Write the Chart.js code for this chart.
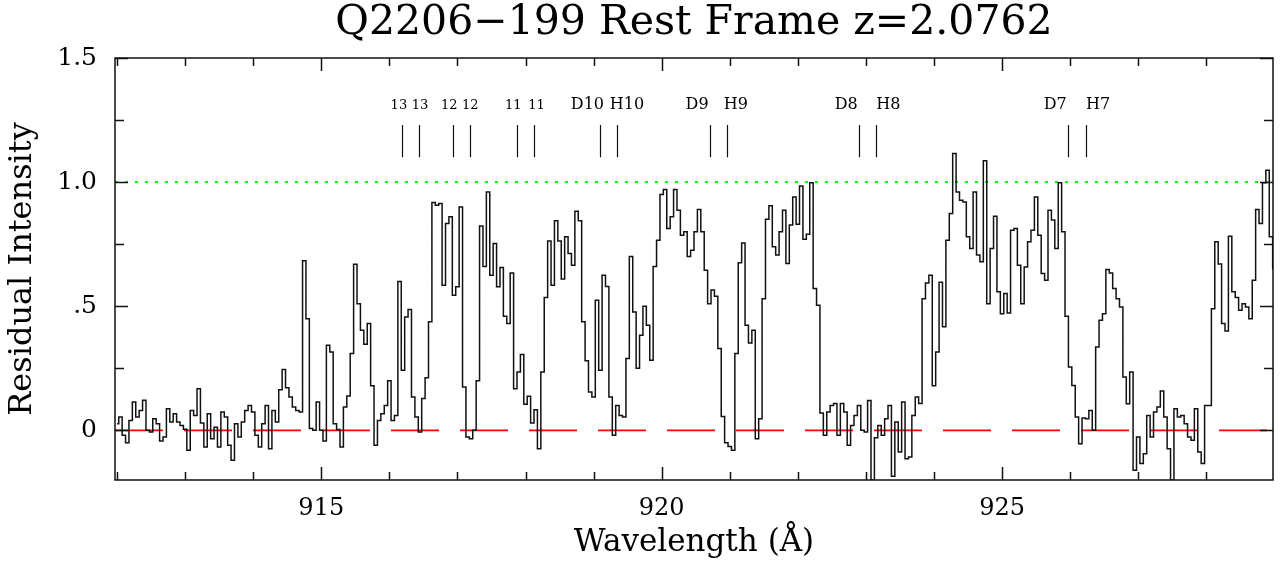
<!DOCTYPE html>
<html>
<head>
<meta charset="utf-8">
<script src="https://cdn.jsdelivr.net/npm/chart.js@4.4.1/dist/chart.umd.min.js"></script>
<style>
  html, body { margin: 0; padding: 0; background: #fff; }
  #wrap { width: 1282px; height: 565px; }
</style>
</head>
<body>
<div id="wrap"><canvas id="spec" width="1282" height="565"></canvas></div>
<script>
// spectrum is on a regular pixel grid
const lambdaStart = 912.0;
const binWidth = 0.05;

// residual intensity in chunks
const flux912 = [.027, .054, -.02, -.05, .04, .114, .054, .08, .121, 0, -.007, .047, .027, -.043, -.027, .087, .034, .067, .034, .02, .004, -.08, .08, .06, .168, .03, -.067, .067, -.034, .013, -.067, .074, .054, -.06, -.12];
const flux914 = [.027, -.027, .034, .08, .1, .074, -.02, -.067, .027, .1, -.074, .08, .034, .164, .245, .172, .134, .094, .08, .074, .683, .45, .007, 0, .114, 0, -.043, .343, .316, .027, .003, -.067, .094, .138, .31];
const flux915 = [.669, .51, .403, .347, .43, .18, -.06, .04, .067, .1, .2, .04, .06, .6, .242, .457, .487, .134, .054, -.007, .128, .212, .437, .918, .907, .914, .585, .833, .86, .544, .578, .9, .175, -.027, -.034];
const flux917 = [0, .2, .823, .66, .96, .625, .753, .578, .656, .46, .43, .634, .168, .235, .306, .105, .137, .03, .083, -.074, .235, .535, .763, .585, .844, .763, .61, .78, .712, .665, .883, .844, .437, .28, .155];
const flux919 = [.134, .524, .242, .625, .58, .134, -.02, .1, .06, .054, .289, .7, .477, .25, .383, .5, .423, .282, .66, .766, .95, .97, .813, .86, .97, .887, .786, .8, .7, .726, .8, .89, .8, .645, .51];
const flux921 = [.565, .54, .33, .056, -.05, -.065, -.08, .31, .675, .755, .423, .352, .403, -.034, .047, .53, .85, .905, .74, .706, .8, .887, .672, .827, .94, .83, .984, .77, .79, .997, .571, .504, .07, -.02, .074];
const flux922 = [.1, .108, -.02, .108, .074, -.06, .02, .06, .1, 0, -.007, .12, -.2, -.03, .02, -.02, .047, .1, -.185, .034, -.087, .114, -.114, -.107, .06, .134, .108, .53, .594, .625, .18, .316, .597, .417, .766, .874];
const flux924 = [1.115, .96, .927, .92, .78, .733, .96, .706, .679, 1.086, .51, .733, .863, .558, .47, .551, .473, .806, .813, .665, .51, .658, .76, .806, .94, .786, .632, .605, .887, .847, .733, .997, .8, .46, .255];
const flux926 = [.181, .054, -.054, .05, .047, .08, 0, .336, .444, .47, .648, .634, .571, .53, .497, .215, .107, .235, -.161, -.027, -.134, -.094, .06, -.027, .074, .094, .159, .054, -.074, -.2, .087, .054, .06, .027, -.027];
const flux928 = [-.04, .087, -.087, -.134, .1, .1, .49, .76, .67, .43, .4, .782, .558, .535, .484, .51, .497, .45, .605, .89, .833, .997, 1.048, .78, .652];

const xRange = [911.97, 928.98];
const yRange = [-0.2, 1.5];
const xTickLabels = [915, 920, 925];
const yTickValues = [0, 0.5, 1.0, 1.5];
const yTickLabels = ['0', '.5', '1.0', '1.5'];

// Lyman series line identifications (D and H)
const lineNames = ['13', '13', '12', '12', '11', '11', 'D10', 'H10', 'D9', 'H9', 'D8', 'H8', 'D7', 'H7'];
const lineWaves = [916.18, 916.43, 916.93, 917.18, 917.88, 918.13, 919.10, 919.35, 920.71, 920.96, 922.90, 923.15, 925.97, 926.23];
const labelWaves = [916.14, 916.45, 916.88, 917.19, 917.82, 918.16, 918.91, 919.49, 920.52, 921.09, 922.71, 923.33, 925.78, 926.41];

const flux = [].concat(flux912, flux914, flux915, flux917, flux919, flux921, flux922, flux924, flux926, flux928);
const spectrum = flux.map((f, i) => ({ x: lambdaStart + i * binWidth, y: f }));

const serif = "'DejaVu Serif', 'Liberation Serif', serif";

const decor = {
  id: 'decor',
  afterDraw(chart) {
    const { ctx, chartArea: a, scales: { x, y } } = chart;
    ctx.save();
    ctx.strokeStyle = '#111';
    ctx.lineWidth = 1.5;
    ctx.strokeRect(a.left, a.top, a.right - a.left, a.bottom - a.top);

    // inward ticks, all four sides
    ctx.beginPath();
    for (let w = Math.ceil(x.min); w <= x.max; w++) {
      const px = Math.round(x.getPixelForValue(w)) + 0.5;
      const len = w % 5 === 0 ? 13 : 8;
      ctx.moveTo(px, a.bottom); ctx.lineTo(px, a.bottom - len);
      ctx.moveTo(px, a.top); ctx.lineTo(px, a.top + len);
    }
    for (let v = 0; v <= y.max + 1e-6; v += 0.25) {
      const py = Math.round(y.getPixelForValue(v)) + 0.5;
      const len = Math.abs(v * 2 - Math.round(v * 2)) < 1e-6 ? 13 : 9;
      ctx.moveTo(a.left, py); ctx.lineTo(a.left + len, py);
      ctx.moveTo(a.right, py); ctx.lineTo(a.right - len, py);
    }
    ctx.stroke();

    // line identification marks
    ctx.lineWidth = 1.2;
    ctx.beginPath();
    lineWaves.forEach(w => {
      const px = Math.round(x.getPixelForValue(w)) + 0.5;
      ctx.moveTo(px, y.getPixelForValue(1.23));
      ctx.lineTo(px, y.getPixelForValue(1.10));
    });
    ctx.stroke();
    ctx.fillStyle = '#000';
    ctx.textAlign = 'center';
    ctx.textBaseline = 'middle';
    lineNames.forEach((name, i) => {
      const big = name.startsWith('D') || name.startsWith('H');
      ctx.font = (big ? '16px ' : '13px ') + serif;
      ctx.fillText(name, x.getPixelForValue(labelWaves[i]), y.getPixelForValue(1.31));
    });

    // title and axis titles
    const midX = (a.left + a.right) / 2;
    ctx.font = '41px ' + serif;
    ctx.fillText('Q2206\u2212199 Rest Frame z=2.0762', midX, 23);
    ctx.font = '31px ' + serif;
    ctx.fillText('Wavelength (\u00c5)', midX, 543);
    ctx.save();
    ctx.translate(23, (a.top + a.bottom) / 2);
    ctx.rotate(-Math.PI / 2);
    ctx.font = '32px ' + serif;
    ctx.fillText('Residual Intensity', 0, 0);
    ctx.restore();
    ctx.restore();
  }
};

new Chart(document.getElementById('spec'), {
  type: 'line',
  data: {
    datasets: [
      {
        data: [{ x: xRange[0], y: 1 }, { x: xRange[1], y: 1 }],
        borderColor: 'rgb(0,255,0)', borderWidth: 2, borderDash: [3, 7],
        pointRadius: 0, order: 3
      },
      {
        data: [{ x: xRange[0], y: 0 }, { x: xRange[1], y: 0 }],
        borderColor: 'rgb(255,0,0)', borderWidth: 1.6, borderDash: [48, 21],
        pointRadius: 0, order: 2
      },
      {
        data: spectrum,
        borderColor: '#111', borderWidth: 1.5, stepped: 'middle',
        pointRadius: 0, order: 1
      }
    ]
  },
  options: {
    responsive: false,
    animation: false,
    devicePixelRatio: 1,
    layout: { padding: { top: 58, right: 9, left: 0, bottom: 0 } },
    plugins: { legend: { display: false }, tooltip: { enabled: false }, title: { display: false } },
    scales: {
      x: {
        type: 'linear', min: xRange[0], max: xRange[1],
        grid: { display: false, drawTicks: false },
        border: { display: false },
        afterBuildTicks: s => { s.ticks = xTickLabels.map(v => ({ value: v })); },
        afterFit: s => { s.height = 85; },
        ticks: { color: '#000', padding: 14, maxRotation: 0, autoSkip: false,
                 font: { family: serif, size: 24 } }
      },
      y: {
        min: yRange[0], max: yRange[1],
        grid: { display: false, drawTicks: false },
        border: { display: false },
        afterBuildTicks: s => { s.ticks = yTickValues.map(v => ({ value: v })); },
        afterFit: s => { s.width = 115; },
        ticks: { color: '#000', padding: 18,
                 callback: v => yTickLabels[yTickValues.indexOf(v)],
                 font: { family: serif, size: 25 } }
      }
    }
  },
  plugins: [decor]
});
</script>
</body>
</html>
